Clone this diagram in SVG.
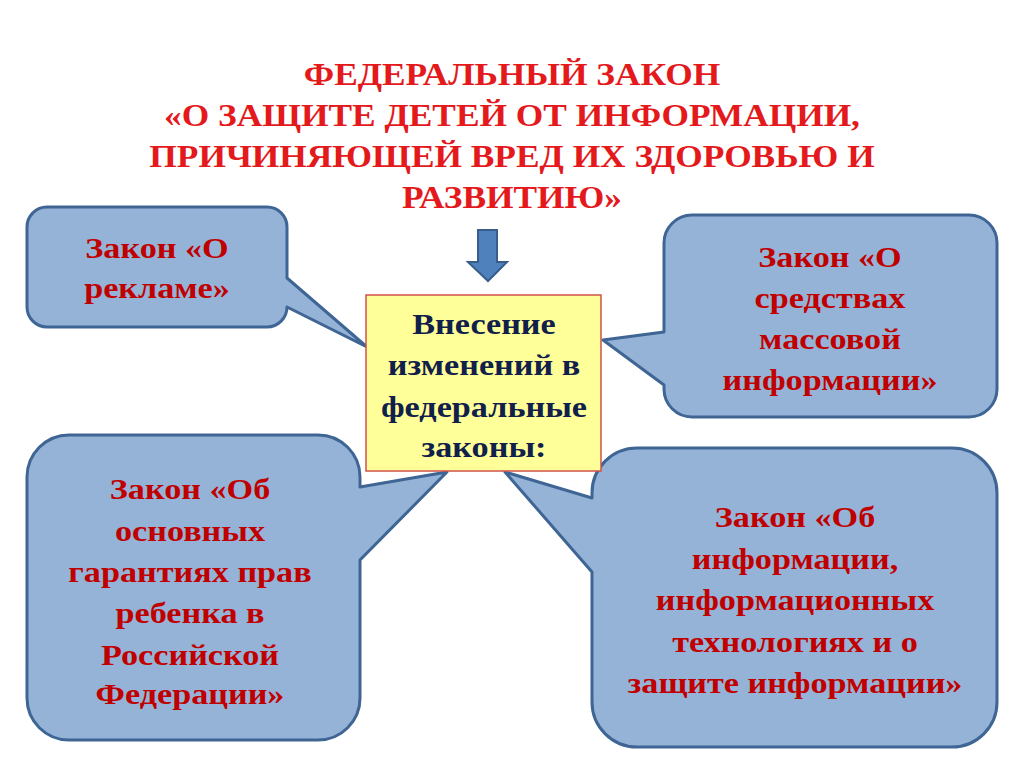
<svg xmlns="http://www.w3.org/2000/svg" width="1024" height="768" viewBox="0 0 1024 768">
<style>
.title{font-family:"Liberation Serif","Times New Roman",serif;font-weight:bold;font-size:31px;fill:#E3191C;text-anchor:middle}
.call{fill:#95B3D7;stroke:#3E6594;stroke-width:3;stroke-linejoin:round}
.ct{font-family:"Liberation Serif","Times New Roman",serif;font-weight:bold;font-size:30px;fill:#C00000;text-anchor:middle}
.box{fill:#FFFF99;stroke:#D2504A;stroke-width:1.5}
.bt{font-family:"Liberation Serif","Times New Roman",serif;font-weight:bold;font-size:30px;fill:#10204A;text-anchor:middle}
.arrow{fill:#4F81BD;stroke:#385D8A;stroke-width:2}
</style>
<rect width="1024" height="768" fill="#FFFFFF"/>
<g id="title" transform="translate(512 0) scale(1.14 1)">
<text class="title" x="0" y="85">ФЕДЕРАЛЬНЫЙ ЗАКОН</text>
<text class="title" x="0" y="126"> «О ЗАЩИТЕ ДЕТЕЙ ОТ ИНФОРМАЦИИ,</text>
<text class="title" x="0" y="167">ПРИЧИНЯЮЩЕЙ ВРЕД ИХ ЗДОРОВЬЮ И</text>
<text class="title" x="0" y="208">РАЗВИТИЮ»</text>
</g>
<g id="connectors">
<path class="arrow" d="M478,230 H497 V262 H507 L488,281 L468,262 H478 Z"/>
</g>
<g id="callout-reklama">
<path class="call" d="M47,207 H267 A20,20 0 0 1 287,227 V278 L367,347 L287,307 A20,20 0 0 1 267,327 H47 A20,20 0 0 1 27,307 V227 A20,20 0 0 1 47,207 Z"/>
<g transform="translate(157 0) scale(1.14 1)">
<text class="ct" x="0" y="258">Закон «О</text>
<text class="ct" x="0" y="298">рекламе»</text>
</g>
</g>
<g id="callout-smi">
<path class="call" d="M692,215 H969 A28,28 0 0 1 997,243 V389 A28,28 0 0 1 969,417 H692 A28,28 0 0 1 664,389 V385 L603,340 L664,332 V243 A28,28 0 0 1 692,215 Z"/>
<g transform="translate(830 0) scale(1.14 1)">
<text class="ct" x="0" y="267">Закон «О</text>
<text class="ct" x="0" y="308">средствах</text>
<text class="ct" x="0" y="349">массовой</text>
<text class="ct" x="0" y="390">информации»</text>
</g>
</g>
<g id="callout-garantii">
<path class="call" d="M69,435 H318 A42,42 0 0 1 360,477 V487 L447,472 L360,560 V698 A42,42 0 0 1 318,740 H69 A42,42 0 0 1 27,698 V477 A42,42 0 0 1 69,435 Z"/>
<g transform="translate(190 0) scale(1.14 1)">
<text class="ct" x="0" y="499">Закон «Об</text>
<text class="ct" x="0" y="541">основных</text>
<text class="ct" x="0" y="582">гарантиях прав</text>
<text class="ct" x="0" y="623">ребенка в</text>
<text class="ct" x="0" y="665">Российской</text>
<text class="ct" x="0" y="704">Федерации»</text>
</g>
</g>
<g id="callout-informacii">
<path class="call" d="M637,448 H952 A45,45 0 0 1 997,493 V702 A45,45 0 0 1 952,747 H637 A45,45 0 0 1 592,702 V572 L505,472 L592,498 V493 A45,45 0 0 1 637,448 Z"/>
<g transform="translate(795 0) scale(1.14 1)">
<text class="ct" x="0" y="527">Закон «Об</text>
<text class="ct" x="0" y="569">информации,</text>
<text class="ct" x="0" y="610">информационных</text>
<text class="ct" x="0" y="652">технологиях и о</text>
<text class="ct" x="0" y="693">защите информации»</text>
</g>
</g>
<g id="center">
<rect class="box" x="366" y="295" width="235" height="176"/>
<g transform="translate(484 0) scale(1.14 1)">
<text class="bt" x="0" y="334">Внесение</text>
<text class="bt" x="0" y="375">изменений в</text>
<text class="bt" x="0" y="417">федеральные</text>
<text class="bt" x="0" y="457">законы:</text>
</g>
</g>
</svg>
